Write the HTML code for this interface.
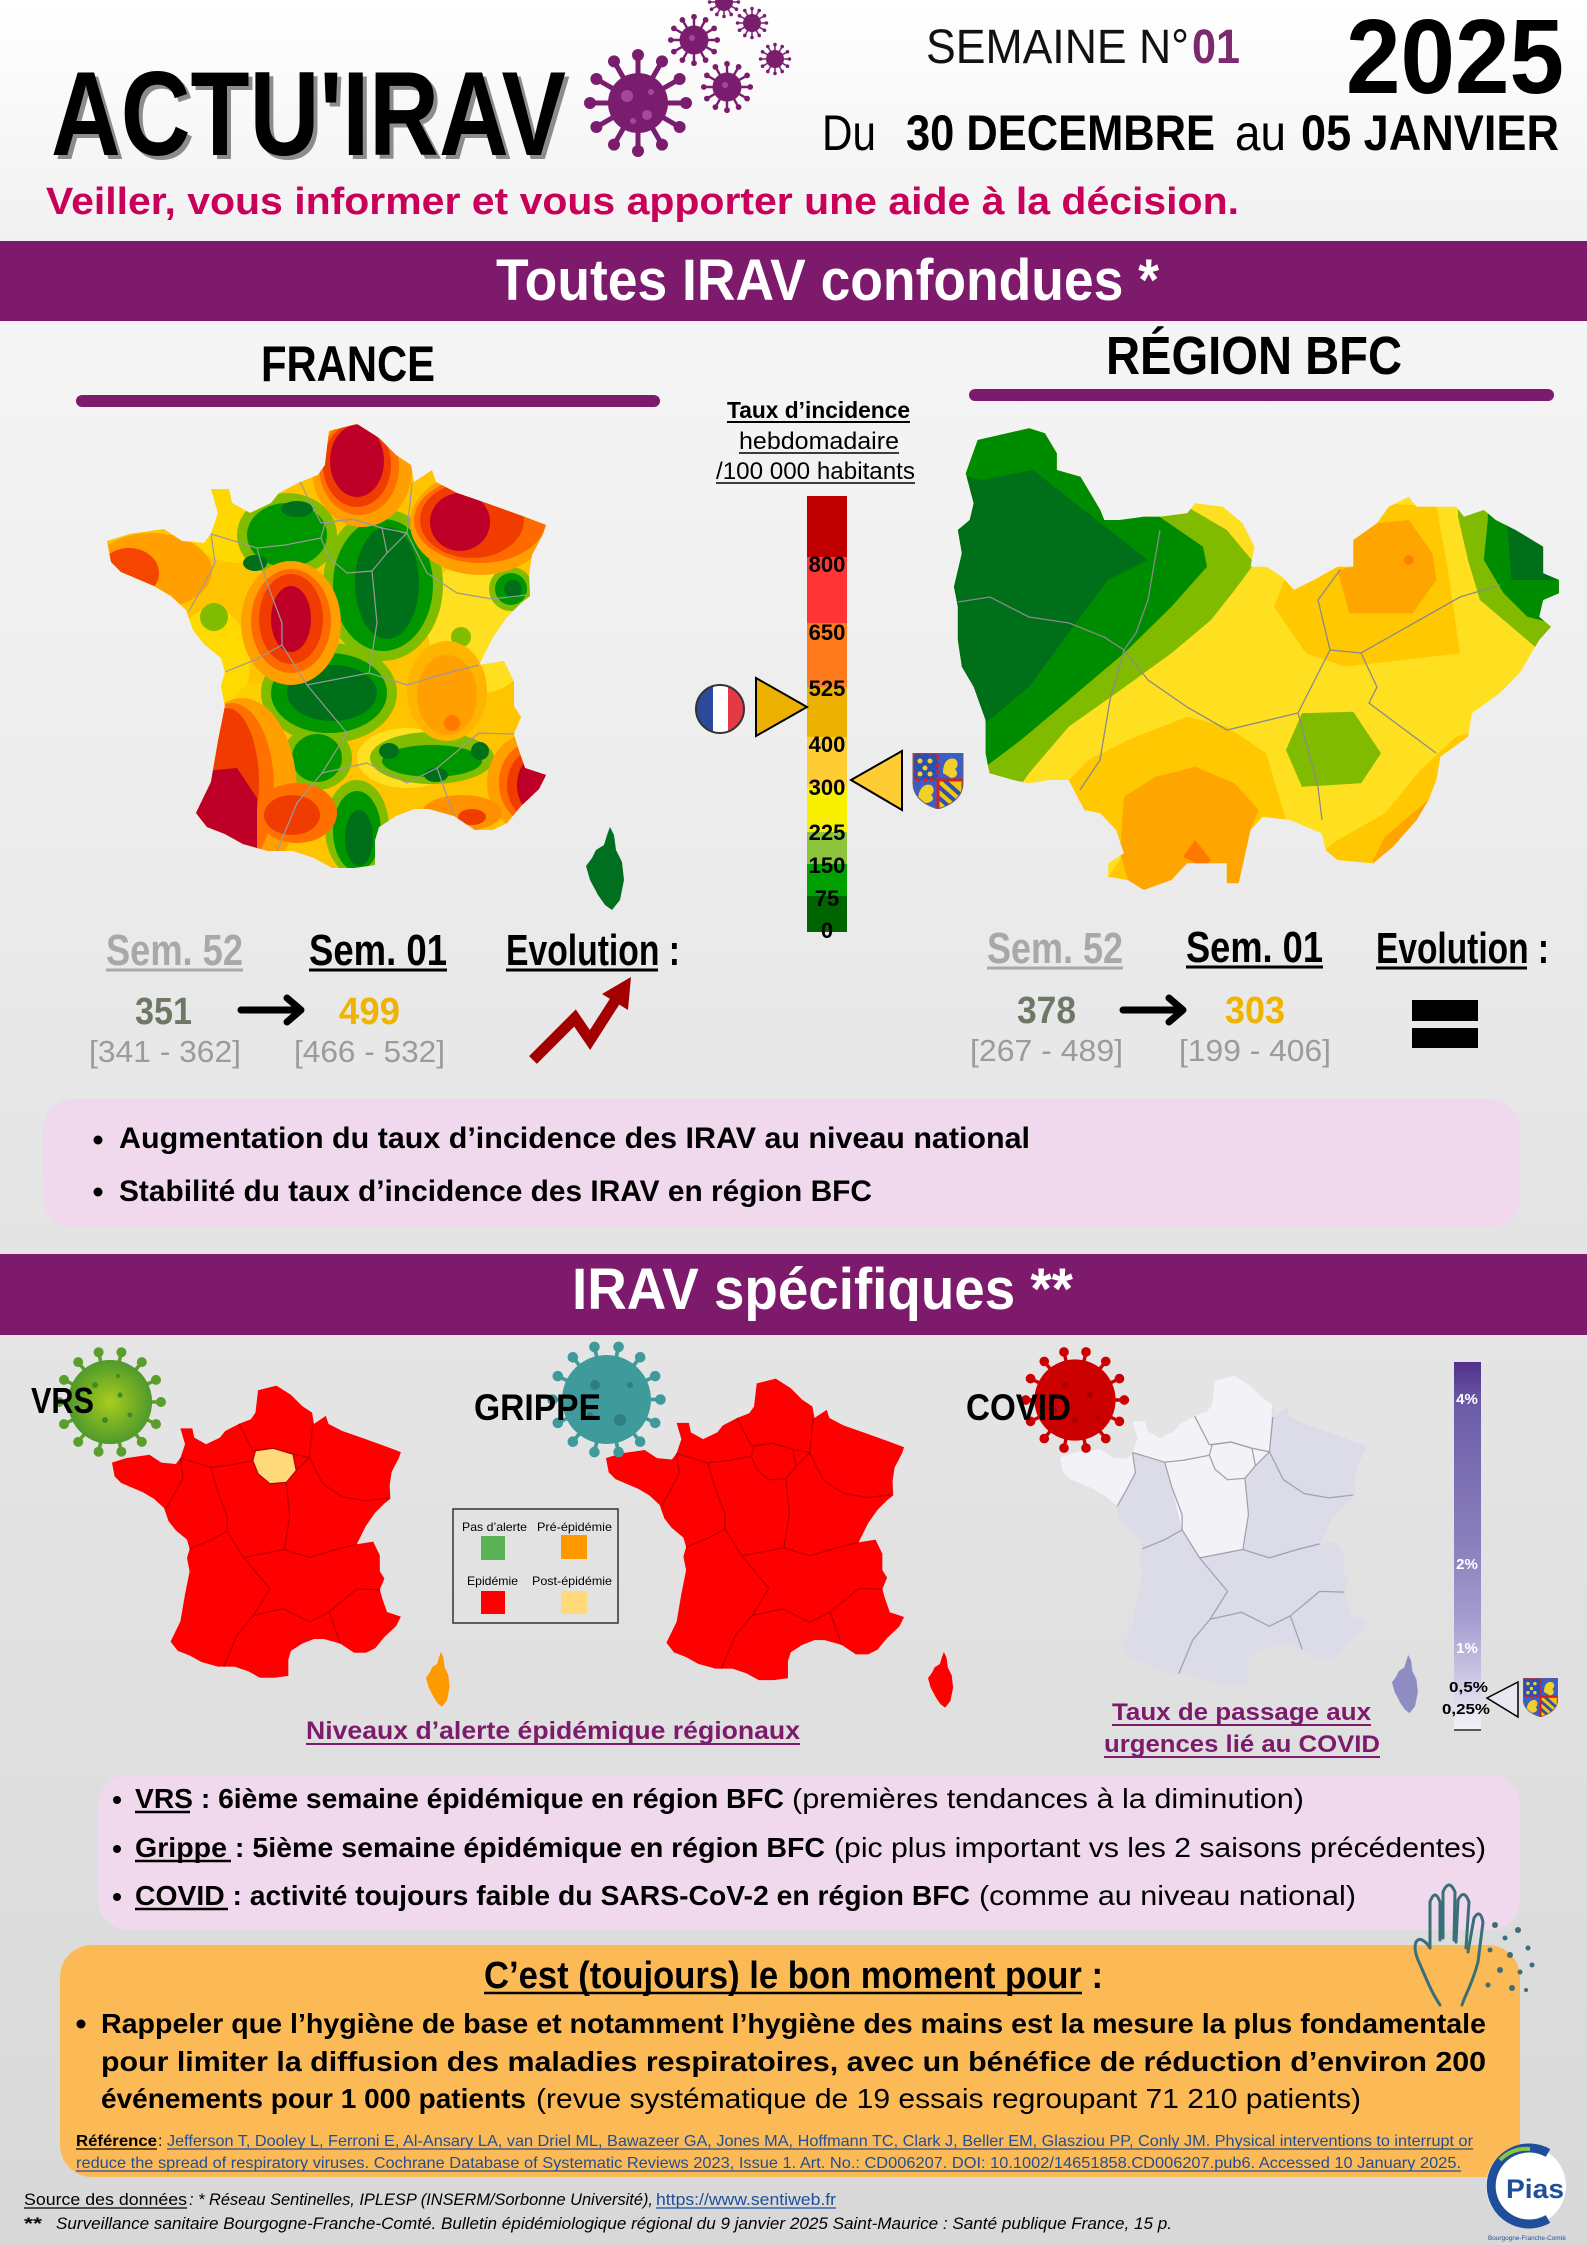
<!DOCTYPE html>
<html><head><meta charset="utf-8">
<style>
html,body{margin:0;padding:0;background:#e8e8e8;}
svg{display:block}
text{font-family:"Liberation Sans",sans-serif;}
</style></head><body>
<svg width="1587" height="2245" viewBox="0 0 1587 2245" xmlns="http://www.w3.org/2000/svg">
<defs>
 <linearGradient id="g1" x1="0" y1="0" x2="0" y2="1"><stop offset="0" stop-color="#ffffff"/><stop offset="1" stop-color="#f1f1f1"/></linearGradient>
 <linearGradient id="g2" x1="0" y1="0" x2="0" y2="1"><stop offset="0" stop-color="#f5f5f5"/><stop offset="1" stop-color="#e4e4e4"/></linearGradient>
 <linearGradient id="g3" x1="0" y1="0" x2="0" y2="1"><stop offset="0" stop-color="#e5e5e5"/><stop offset="1" stop-color="#d8d8d8"/></linearGradient>
 <linearGradient id="cb" x1="0" y1="0" x2="0" y2="1">
  <stop offset="0" stop-color="#52308c"/><stop offset="0.12" stop-color="#6c5ca8"/><stop offset="0.5" stop-color="#8a80bd"/>
  <stop offset="0.7" stop-color="#a49dcf"/><stop offset="0.85" stop-color="#c9c6e3"/><stop offset="1" stop-color="#f3f3f8"/>
 </linearGradient>
 <radialGradient id="vrsg" cx="0.5" cy="0.5" r="0.5"><stop offset="0" stop-color="#a9cc1e"/><stop offset="1" stop-color="#4f9a2b"/></radialGradient>
 <path id="frp" d="M222,8 L250,1 L272,15 L289,32 L304,42 L307,59 L325,47 L329,59 L350,70 L379,80 L418,94 L439,102 L436,111 L425,132 L422,152 L423,173 L414,180 L400,194 L386,214 L372,242 L397,238 L407,259 L407,283 L414,294 L407,311 L411,325 L418,345 L439,352 L432,366 L414,383 L400,400 L386,407 L368,407 L347,393 L322,386 L307,386 L289,393 L272,404 L268,417 L268,442 L247,445 L225,445 L207,435 L186,428 L161,428 L136,421 L118,411 L100,404 L89,390 L104,359 L111,318 L118,283 L114,263 L118,249 L114,235 L97,221 L86,207 L79,187 L64,173 L47,163 L14,149 L4,139 L0,118 L22,111 L57,106 L75,118 L97,120 L104,111 L111,90 L104,66 L122,66 L125,80 L143,90 L164,80 L172,70 L193,59 L211,52 L218,42 Z"/>
 <path id="cor" d="M24,0 L28,8 L30,23 L36,35 L38,53 L34,73 L26,83 L19,78 L12,68 L4,53 L0,39 L6,31 L10,23 L18,18 L21,8 Z"/>
 <clipPath id="frc"><use href="#frp"/></clipPath>
 <g id="rb">
  <path d="M193,59 L214,100"/>
  <path d="M214,100 L245,96 L275,105 L300,110 L305,60"/>
  <path d="M104,111 L150,125 L178,122 L214,115"/>
  <path d="M104,111 L108,140 L95,165 L82,188"/>
  <path d="M150,125 L160,160 L175,200 L175,222"/>
  <path d="M118,249 L150,236 L175,222"/>
  <path d="M218,100 L245,96 L275,105 L280,130 L265,148 L240,150 L222,135 L214,115 Z"/>
  <path d="M265,148 L270,200 L262,250"/>
  <path d="M175,222 L200,262 L262,250"/>
  <path d="M280,130 L300,110 L320,150 L350,170 L385,176 L420,172"/>
  <path d="M262,250 L300,262 L340,250 L372,242"/>
  <path d="M200,262 L240,310 L215,350 L190,380 L170,428"/>
  <path d="M215,350 L260,340 L300,360 L330,345"/>
  <path d="M330,345 L372,310 L407,311"/>
  <path d="M330,345 L347,393"/>
 </g>
 <symbol id="vir" viewBox="-60 -60 120 120">
  <path d="M0,0L48,0M0,0L41.6,24M0,0L24,41.6M0,0L0,48M0,0L-24,41.6M0,0L-41.6,24M0,0L-48,0M0,0L-41.6,-24M0,0L-24,-41.6M0,0L0,-48M0,0L24,-41.6M0,0L41.6,-24" stroke="currentColor" stroke-width="5"/>
  <circle r="30" fill="currentColor"/>
  <g fill="currentColor"><circle cx="48" cy="0" r="6"/><circle cx="41.6" cy="24" r="6"/><circle cx="24" cy="41.6" r="6"/><circle cx="0" cy="48" r="6"/><circle cx="-24" cy="41.6" r="6"/><circle cx="-41.6" cy="24" r="6"/><circle cx="-48" cy="0" r="6"/><circle cx="-41.6" cy="-24" r="6"/><circle cx="-24" cy="-41.6" r="6"/><circle cx="0" cy="-48" r="6"/><circle cx="24" cy="-41.6" r="6"/><circle cx="41.6" cy="-24" r="6"/></g>
 </symbol>
 <symbol id="vir2" viewBox="-60 -60 120 120">
  <path d="M0,0L51,0M0,0L46,22.1M0,0L31.8,39.9M0,0L11.4,49.7M0,0L-11.4,49.7M0,0L-31.8,39.9M0,0L-46,22.1M0,0L-51,0M0,0L-46,-22.1M0,0L-31.8,-39.9M0,0L-11.4,-49.7M0,0L11.4,-49.7M0,0L31.8,-39.9M0,0L46,-22.1" stroke="currentColor" stroke-width="3.5"/>
  <circle r="42" fill="currentColor"/>
  <g fill="currentColor"><circle cx="51" cy="0" r="5"/><circle cx="46" cy="22.1" r="5"/><circle cx="31.8" cy="39.9" r="5"/><circle cx="11.4" cy="49.7" r="5"/><circle cx="-11.4" cy="49.7" r="5"/><circle cx="-31.8" cy="39.9" r="5"/><circle cx="-46" cy="22.1" r="5"/><circle cx="-51" cy="0" r="5"/><circle cx="-46" cy="-22.1" r="5"/><circle cx="-31.8" cy="-39.9" r="5"/><circle cx="-11.4" cy="-49.7" r="5"/><circle cx="11.4" cy="-49.7" r="5"/><circle cx="31.8" cy="-39.9" r="5"/><circle cx="46" cy="-22.1" r="5"/></g>
 </symbol>
 <clipPath id="shc"><path d="M0,0H50V30C50,45 38,52 25,56C12,52 0,45 0,30Z"/></clipPath>
 <symbol id="coa" viewBox="0 0 50 56">
  <g clip-path="url(#shc)">
   <rect width="50" height="56" fill="#3a5ec4"/>
   <rect x="0" y="0" width="25" height="27" fill="#2c4fb0"/>
   <rect x="0" y="0" width="25" height="27" fill="none" stroke="#e02020" stroke-width="3" stroke-dasharray="4 3"/>
   <g fill="#f3cf2a"><circle cx="7" cy="8" r="2.5"/><circle cx="17" cy="8" r="2.5"/><circle cx="12" cy="15" r="2.5"/><circle cx="7" cy="21" r="2.5"/><circle cx="17" cy="21" r="2.5"/></g>
   <path d="M30,20 C30,8 36,4 42,6 C46,9 45,14 42,16 C46,20 44,25 38,25 Z" fill="#f3cf2a"/>
   <path d="M5,48 C5,35 12,30 18,32 C22,35 21,40 18,42 C22,45 20,50 12,50 Z" fill="#f3cf2a"/>
   <rect x="25" y="27" width="25" height="29" fill="#f2c511"/>
   <path d="M25,33 L50,55 M25,44 L40,57 M31,27 L50,44" stroke="#2c4fb0" stroke-width="4"/>
   <rect x="25" y="27" width="25" height="29" fill="none" stroke="#d42020" stroke-width="3"/>
  </g>
  <path d="M0,0H50V30C50,45 38,52 25,56C12,52 0,45 0,30Z" fill="none" stroke="#666" stroke-width="1"/>
 </symbol>
 <clipPath id="flc"><circle cx="720" cy="709" r="24"/></clipPath>
</defs>

<!-- backgrounds -->
<rect x="0" y="0" width="1587" height="241" fill="url(#g1)"/>
<rect x="0" y="321" width="1587" height="933" fill="url(#g2)"/>
<rect x="0" y="1335" width="1587" height="910" fill="url(#g3)"/>
<rect x="0" y="241" width="1587" height="80" fill="#7d1a6b"/>
<rect x="0" y="1254" width="1587" height="81" fill="#7d1a6b"/>

<!-- HEADER -->
<text x="55" y="159" font-size="120" font-weight="bold" fill="#8c8c8c" textLength="515" lengthAdjust="spacingAndGlyphs">ACTU'IRAV</text>
<text x="51" y="155" font-size="120" font-weight="bold" fill="#000" textLength="515" lengthAdjust="spacingAndGlyphs">ACTU'IRAV</text>
<g color="#7b1d6e">
 <use href="#vir" x="578" y="43" width="120" height="120"/>
 <use href="#vir" x="665" y="11" width="58" height="58"/>
 <use href="#vir" x="698" y="58" width="58" height="58"/>
 <use href="#vir" x="734" y="5" width="36" height="36"/>
 <use href="#vir" x="757" y="41" width="36" height="36"/>
 <use href="#vir" x="706" y="-16" width="36" height="36"/>
</g>
<g fill="#a8479a"><circle cx="627" cy="96" r="6"/><circle cx="647" cy="115" r="5"/><circle cx="633" cy="121" r="3"/><circle cx="651" cy="92" r="3"/><circle cx="692" cy="38" r="3"/><circle cx="725" cy="85" r="3"/></g>

<text x="926" y="63" font-size="48" fill="#111" textLength="263" lengthAdjust="spacingAndGlyphs">SEMAINE N°</text>
<text x="1192" y="63" font-size="48" font-weight="bold" fill="#7b2a6e" textLength="48" lengthAdjust="spacingAndGlyphs">01</text>
<text x="1346" y="93" font-size="106" font-weight="bold" fill="#000" textLength="218" lengthAdjust="spacingAndGlyphs">2025</text>
<text x="822" y="150" font-size="50" fill="#000" textLength="54" lengthAdjust="spacingAndGlyphs">Du</text>
<text x="906" y="150" font-size="50" font-weight="bold" fill="#000" textLength="309" lengthAdjust="spacingAndGlyphs">30 DECEMBRE</text>
<text x="1235" y="150" font-size="50" fill="#000" textLength="51" lengthAdjust="spacingAndGlyphs">au</text>
<text x="1301" y="150" font-size="50" font-weight="bold" fill="#000" textLength="258" lengthAdjust="spacingAndGlyphs">05 JANVIER</text>
<text x="46" y="214" font-size="38" font-weight="bold" fill="#c8005a" textLength="1193" lengthAdjust="spacingAndGlyphs">Veiller, vous informer et vous apporter une aide à la décision.</text>

<text x="496" y="300" font-size="58" font-weight="bold" fill="#fff" textLength="663" lengthAdjust="spacingAndGlyphs">Toutes IRAV confondues *</text>

<!-- SECTION 1 titles -->
<text x="261" y="381" font-size="50" font-weight="bold" fill="#000" textLength="174" lengthAdjust="spacingAndGlyphs">FRANCE</text>
<rect x="76" y="395" width="584" height="12" rx="6" fill="#7d1a6b"/>
<text x="1106" y="374" font-size="54" font-weight="bold" fill="#000" textLength="296" lengthAdjust="spacingAndGlyphs">RÉGION BFC</text>
<rect x="969" y="389" width="585" height="12" rx="6" fill="#7d1a6b"/>

<!-- FRANCE HEAT MAP -->
<g transform="translate(107,423)">
 <g clip-path="url(#frc)">
  <rect x="-5" y="-5" width="450" height="460" fill="#ffc400"/>
  <ellipse cx="135" cy="100" rx="60" ry="40" fill="#ffd800"/>
  <ellipse cx="105" cy="240" rx="38" ry="55" fill="#ffda00"/>
  <ellipse cx="375" cy="200" rx="55" ry="70" fill="#ffe020"/>
  <ellipse cx="300" cy="335" rx="50" ry="30" fill="#ffe020"/>
  <ellipse cx="150" cy="300" rx="30" ry="40" fill="#ffd000"/>
  <ellipse cx="45" cy="148" rx="60" ry="38" fill="#ffa000"/>
  <ellipse cx="22" cy="150" rx="30" ry="25" fill="#f54500"/>
  <g fill="#80bc00">
   <ellipse cx="180" cy="112" rx="50" ry="42"/><ellipse cx="276" cy="162" rx="60" ry="76"/><ellipse cx="222" cy="270" rx="68" ry="50"/>
   <ellipse cx="210" cy="335" rx="35" ry="32"/><ellipse cx="250" cy="405" rx="32" ry="48"/><ellipse cx="325" cy="335" rx="62" ry="26"/>
   <ellipse cx="404" cy="166" rx="22" ry="22"/><ellipse cx="107" cy="194" rx="14" ry="14"/><ellipse cx="354" cy="214" rx="10" ry="10"/>
  </g>
  <g fill="#009600">
   <ellipse cx="180" cy="112" rx="40" ry="32"/><ellipse cx="276" cy="162" rx="50" ry="66"/><ellipse cx="222" cy="270" rx="58" ry="40"/>
   <ellipse cx="210" cy="335" rx="25" ry="24"/><ellipse cx="250" cy="408" rx="24" ry="40"/><ellipse cx="325" cy="338" rx="50" ry="16"/>
   <ellipse cx="404" cy="166" rx="16" ry="16"/>
  </g>
  <g fill="#006f1a">
   <ellipse cx="190" cy="86" rx="16" ry="8"/><ellipse cx="148" cy="140" rx="12" ry="8"/><ellipse cx="280" cy="160" rx="32" ry="56"/>
   <ellipse cx="225" cy="270" rx="45" ry="28"/><ellipse cx="252" cy="415" rx="14" ry="28"/><ellipse cx="282" cy="328" rx="10" ry="8"/>
   <ellipse cx="373" cy="328" rx="9" ry="9"/><ellipse cx="329" cy="352" rx="12" ry="7"/><ellipse cx="406" cy="166" rx="9" ry="9"/>
  </g>
  <!-- Nord -->
  <ellipse cx="255" cy="46" rx="50" ry="58" fill="#ffa000"/>
  <ellipse cx="252" cy="44" rx="40" ry="48" fill="#ff7000"/>
  <ellipse cx="250" cy="42" rx="34" ry="42" fill="#f03c00"/>
  <ellipse cx="250" cy="38" rx="27" ry="36" fill="#be0028"/>
  <!-- Champagne -->
  <ellipse cx="373" cy="100" rx="70" ry="52" fill="#ffa000"/>
  <ellipse cx="373" cy="97" rx="66" ry="43" fill="#ff6a00"/>
  <ellipse cx="365" cy="97" rx="52" ry="38" fill="#f03c00"/>
  <ellipse cx="353" cy="99" rx="30" ry="29" fill="#be0028"/>
  <!-- Centre -->
  <ellipse cx="184" cy="200" rx="50" ry="62" fill="#ffa000"/>
  <ellipse cx="184" cy="198" rx="40" ry="52" fill="#ff6a00"/>
  <ellipse cx="184" cy="196" rx="32" ry="45" fill="#f03c00"/>
  <ellipse cx="184" cy="196" rx="20" ry="33" fill="#be0028"/>
  <!-- SW -->
  <ellipse cx="135" cy="370" rx="55" ry="95" fill="#ffa000"/>
  <ellipse cx="125" cy="365" rx="42" ry="85" fill="#ff7000"/>
  <ellipse cx="120" cy="360" rx="32" ry="75" fill="#f03c00"/>
  <polygon points="89,349 130,345 150,375 150,428 136,428 100,410 89,390" fill="#be0028"/>
  <ellipse cx="190" cy="390" rx="40" ry="30" fill="#ff7000"/>
  <ellipse cx="185" cy="392" rx="28" ry="20" fill="#f03c00"/>
  <!-- Provence -->
  <ellipse cx="425" cy="360" rx="45" ry="50" fill="#ffa000"/>
  <ellipse cx="428" cy="360" rx="36" ry="42" fill="#ff6a00"/>
  <ellipse cx="430" cy="362" rx="30" ry="36" fill="#f03c00"/>
  <ellipse cx="432" cy="362" rx="22" ry="30" fill="#be0028"/>
  <ellipse cx="355" cy="390" rx="40" ry="18" fill="#ff9000"/>
  <ellipse cx="365" cy="394" rx="14" ry="8" fill="#f03c00"/>
  <!-- Rhone-Alpes -->
  <ellipse cx="340" cy="268" rx="40" ry="50" fill="#ffb400"/>
  <ellipse cx="340" cy="272" rx="30" ry="40" fill="#ffa000"/>
  <ellipse cx="345" cy="300" rx="8" ry="8" fill="#ff7800"/>
 </g>
 <use href="#rb" fill="none" stroke="#9a9a9a" stroke-width="1.2"/>
</g>
<use href="#cor" x="586" y="827" fill="#007020"/>

<!-- Legend / color bar -->
<text x="727" y="418" font-size="23" font-weight="bold" fill="#000" textLength="183" lengthAdjust="spacingAndGlyphs">Taux d’incidence</text>
<line x1="727" y1="422" x2="910" y2="422" stroke="#000" stroke-width="2"/>
<text x="739" y="449" font-size="24" fill="#000" textLength="160" lengthAdjust="spacingAndGlyphs">hebdomadaire</text>
<line x1="739" y1="453" x2="899" y2="453" stroke="#000" stroke-width="1.5"/>
<text x="716" y="479" font-size="24" fill="#000" textLength="199" lengthAdjust="spacingAndGlyphs">/100 000 habitants</text>
<line x1="716" y1="483" x2="915" y2="483" stroke="#000" stroke-width="1.5"/>

<rect x="807" y="496" width="40" height="61" fill="#c00000"/>
<rect x="807" y="557" width="40" height="66" fill="#ff3535"/>
<rect x="807" y="623" width="40" height="64" fill="#ff7a1c"/>
<rect x="807" y="687" width="40" height="50" fill="#ebb000"/>
<rect x="807" y="737" width="40" height="50" fill="#ffcc33"/>
<rect x="807" y="787" width="40" height="45" fill="#f7f000"/>
<rect x="807" y="832" width="40" height="32" fill="#8cc43c"/>
<rect x="807" y="864" width="40" height="32" fill="#00a000"/>
<rect x="807" y="896" width="40" height="36" fill="#006400"/>
<g font-size="22" font-weight="bold" fill="#000" text-anchor="middle">
 <text x="827" y="572">800</text><text x="827" y="640">650</text><text x="827" y="696">525</text><text x="827" y="752">400</text>
 <text x="827" y="795">300</text><text x="827" y="840">225</text><text x="827" y="873">150</text><text x="827" y="906">75</text><text x="827" y="938">0</text>
</g>
<g clip-path="url(#flc)">
 <rect x="696" y="685" width="17" height="48" fill="#2b4a9c"/>
 <rect x="713" y="685" width="15" height="48" fill="#ffffff"/>
 <rect x="728" y="685" width="17" height="48" fill="#e63946"/>
</g>
<circle cx="720" cy="709" r="24" fill="none" stroke="#333" stroke-width="2"/>
<polygon points="756,678 807,707 756,736" fill="#ebb000" stroke="#000" stroke-width="2"/>
<polygon points="851,780 902,751 902,810" fill="#ffcc33" stroke="#000" stroke-width="2"/>
<use href="#coa" x="912" y="753" width="52" height="56"/>

<!-- BFC MAP -->
<clipPath id="bfc"><polygon points="977.7,440 1029.1,428.3 1044.9,433.3 1056.8,453.3 1056.8,470 1080.5,476.7 1088.4,490 1100.3,510 1104.2,520 1120,520 1143.8,516.7 1159.6,516.7 1187.2,513.3 1195.2,503.3 1222.8,506.7 1242.6,523.3 1254.5,546.7 1250.5,566.7 1266.3,566.7 1282.1,576.7 1294,590 1313.8,580 1337.5,566.7 1353.3,566.7 1353.3,540 1377,523.3 1388.9,506.7 1408.7,496.7 1416.6,506.7 1436.4,506.7 1456.1,506.7 1464,516.7 1483.8,510 1495.7,520 1515.4,530 1543.1,546.7 1543.1,573.3 1558.9,580 1558.9,593.3 1543.1,600 1539.2,616.7 1551,626.7 1539.2,640 1519.4,673.3 1499.6,693.3 1471.9,713.3 1468,736.7 1440.3,756.7 1436.4,780 1428.5,800 1416.6,820 1392.9,846.7 1373.1,863.3 1337.5,860 1325.6,850 1321.7,833.3 1305.9,826.7 1290.1,820 1262.4,816.7 1250.5,830 1238.7,883.3 1226.8,883.3 1226.8,863.3 1187.2,863.3 1171.4,880 1143.8,890 1127.9,880 1108.2,876.7 1108.2,863.3 1124,853.3 1116.1,830 1100.3,813.3 1084.4,810 1068.6,780 1048.9,780 1029.1,783.3 1013.3,780 989.5,773.3 985.6,753.3 985.6,720 973.7,686.7 961.9,666.7 957.9,640 957.9,606.7 954,586.7 961.9,553.3 957.9,530 969.8,520 973.7,503.3 965.8,473.3"/></clipPath>
<g clip-path="url(#bfc)">
 <rect x="940" y="420" width="640" height="480" fill="#ffe020"/>
 <polygon points="1385,503.3 1436.4,506.7 1448,570 1460,653.3 1345.4,666.7 1305.9,653.3 1274,606.7 1286,576.7 1313.8,580 1337.5,566.7 1353,540" fill="#ffc800"/>
 <polygon points="1377,523.3 1408.7,520 1432.4,553.3 1436.4,580 1412.6,613.3 1349.4,613.3 1337.5,570 1353.3,566.7 1353.3,540" fill="#ffa500"/>
 <circle cx="1408.7" cy="560" r="5" fill="#ff7f00"/>
 <polygon points="1068.6,780 1088.4,760 1128,740 1187.2,716.7 1226.8,726.7 1266.3,753.3 1286,820 1250.5,830 1238.7,883.3 1187.2,863.3 1171.4,880 1143.8,890 1108.2,876.7 1124,853.3 1116,830 1100.3,813.3 1084.4,810" fill="#ffc800"/>
 <polygon points="1124,796.7 1155.6,776.7 1195.2,766.7 1234.7,783.3 1258.4,810 1250.5,830 1238.7,883.3 1226.8,883.3 1226.8,863.3 1187.2,863.3 1171.4,880 1143.8,890 1127.9,880 1120,853.3" fill="#ffa500"/>
 <polygon points="1183,856.7 1195,840 1211,860 1203,866.7" fill="#ff7800"/>
 <polygon points="1480,730 1456,736.7 1420.5,770 1385,813.3 1337.5,840 1325,850 1337.5,870 1380,870 1440,800" fill="#ffc800"/>
 <polygon points="1373,870 1373,860 1385,836.7 1416.6,810 1440,790 1440,830 1400,870" fill="#ffa500"/>
 <polygon points="1301.9,713.3 1353.3,711.7 1381,753.3 1361.2,783.3 1301.9,786.7 1286,750" fill="#80bb00"/>
 <polygon points="940,420 1187,420 1187,506.7 1226.8,530 1254.5,563.3 1234.7,590 1211,620 1171.4,653.3 1116,693.3 1068.6,726.7 1029,773.3 1010,800 940,800" fill="#80bb00"/>
 <polygon points="940,420 1159.6,420 1159.6,516.7 1203,546.7 1207,566.7 1171.4,606.7 1124,653.3 1068.6,700 1021,740 985.6,766.7 960,800 940,800" fill="#008c00"/>
 <polygon points="940,470 981.6,480 1033,470 1147.7,560 1108,580 1068.6,633 1029,687 985.6,723 940,740" fill="#006f1a"/>
 <polygon points="1458,500 1580,500 1580,665 1535,646.7 1511.5,626.7 1479.9,600 1468,560 1458,516.7" fill="#80bb00"/>
 <polygon points="1487.8,500 1580,500 1580,630 1527.3,616.7 1503.6,593.3 1483.8,560 1487.8,520" fill="#008c00"/>
 <polygon points="1505,500 1580,500 1580,580 1511.5,580 1507.5,530" fill="#006f1a"/>
 <g fill="none" stroke="#8a8a8a" stroke-width="1.3">
  <polyline points="958,602 990,597 1029,617 1069,623 1104,637 1124,650 1136,633 1148,600 1160,530"/>
  <polyline points="1124,650 1148,680 1187,707 1227,730 1298,713 1330,650 1361,653 1460,597 1500,585"/>
  <polyline points="1298,713 1318,787 1322,820"/>
  <polyline points="1361,653 1377,687 1369,703 1436,753"/>
  <polyline points="1330,650 1318,600 1340,570"/>
  <polyline points="1124,650 1110,700 1100,760 1080,790"/>
 </g>
</g>

<!-- Stats -->
<g font-weight="bold" font-size="44">
 <text x="106" y="965" fill="#a8a8a8" textLength="137" lengthAdjust="spacingAndGlyphs">Sem. 52</text>
 <text x="309" y="965" fill="#000" textLength="138" lengthAdjust="spacingAndGlyphs">Sem. 01</text>
 <text x="506" y="965" fill="#000" textLength="174" lengthAdjust="spacingAndGlyphs">Evolution :</text>
 <text x="987" y="963" fill="#a8a8a8" textLength="136" lengthAdjust="spacingAndGlyphs">Sem. 52</text>
 <text x="1186" y="962" fill="#000" textLength="137" lengthAdjust="spacingAndGlyphs">Sem. 01</text>
 <text x="1376" y="963" fill="#000" textLength="173" lengthAdjust="spacingAndGlyphs">Evolution :</text>
</g>
<line x1="106" y1="970" x2="243" y2="970" stroke="#a8a8a8" stroke-width="3"/>
<line x1="309" y1="970" x2="447" y2="970" stroke="#000" stroke-width="3"/>
<line x1="506" y1="970" x2="658" y2="970" stroke="#000" stroke-width="3"/>
<line x1="987" y1="968" x2="1123" y2="968" stroke="#a8a8a8" stroke-width="3"/>
<line x1="1186" y1="967" x2="1323" y2="967" stroke="#000" stroke-width="3"/>
<line x1="1376" y1="968" x2="1527" y2="968" stroke="#000" stroke-width="3"/>

<g font-weight="bold" font-size="38">
 <text x="135" y="1024" fill="#6d7867" textLength="57" lengthAdjust="spacingAndGlyphs">351</text>
 <text x="339" y="1024" fill="#f0b400" textLength="61" lengthAdjust="spacingAndGlyphs">499</text>
 <text x="1017" y="1023" fill="#6d7867" textLength="59" lengthAdjust="spacingAndGlyphs">378</text>
 <text x="1225" y="1023" fill="#f0b400" textLength="60" lengthAdjust="spacingAndGlyphs">303</text>
</g>
<g font-size="31" fill="#9b9b9b">
 <text x="89" y="1062" textLength="152" lengthAdjust="spacingAndGlyphs">[341 - 362]</text>
 <text x="294" y="1062" textLength="151" lengthAdjust="spacingAndGlyphs">[466 - 532]</text>
 <text x="970" y="1061" textLength="153" lengthAdjust="spacingAndGlyphs">[267 - 489]</text>
 <text x="1179" y="1061" textLength="152" lengthAdjust="spacingAndGlyphs">[199 - 406]</text>
</g>
<g stroke="#000" stroke-width="7" stroke-linecap="round" stroke-linejoin="round" fill="none">
 <path d="M241,1010 H300 M287,998 L301,1010 L287,1022"/>
 <path d="M1123,1010 H1182 M1169,998 L1183,1010 L1169,1022"/>
</g>
<path d="M533,1060 L575,1018 L590,1040 L615,1001" fill="none" stroke="#a50000" stroke-width="11" stroke-linejoin="miter"/>
<polygon points="631,977 628,1010 602,994" fill="#a50000"/>
<rect x="1412" y="1000" width="66" height="21" fill="#000"/>
<rect x="1412" y="1028" width="66" height="20" fill="#000"/>

<!-- Pink box 1 -->
<rect x="43" y="1099" width="1477" height="129" rx="30" fill="#f0d9ec"/>
<circle cx="98" cy="1140" r="4.5" fill="#000"/>
<circle cx="98" cy="1192" r="4.5" fill="#000"/>
<text x="119" y="1148" font-size="30" font-weight="bold" fill="#000" textLength="911" lengthAdjust="spacingAndGlyphs">Augmentation du taux d’incidence des IRAV au niveau national</text>
<text x="119" y="1201" font-size="30" font-weight="bold" fill="#000" textLength="753" lengthAdjust="spacingAndGlyphs">Stabilité du taux d’incidence des IRAV en région BFC</text>

<text x="572" y="1309" font-size="58" font-weight="bold" fill="#fff" textLength="501" lengthAdjust="spacingAndGlyphs">IRAV spécifiques **</text>

<!-- SECTION 3 -->
<!-- VRS -->
<g transform="translate(112,1385) scale(0.658)">
 <use href="#frp" fill="#ff0000"/>
 <path d="M218,100 L245,96 L275,105 L280,130 L265,148 L240,150 L222,135 L214,115 Z" fill="#ffd97a"/>
 <use href="#rb" fill="none" stroke="#b80000" stroke-width="1.8"/>
</g>
<use href="#cor" transform="translate(426,1652) scale(0.62,0.66)" fill="#ff9900"/>
<use href="#vir2" x="50" y="1342" width="120" height="120" color="#5a9e2c"/>
<circle cx="110" cy="1402" r="42" fill="url(#vrsg)"/>
<g fill="#3f8a25"><circle cx="95" cy="1385" r="3"/><circle cx="120" cy="1395" r="2.5"/><circle cx="105" cy="1420" r="3"/><circle cx="130" cy="1415" r="2.5"/><circle cx="88" cy="1408" r="2"/><circle cx="118" cy="1376" r="2"/></g>
<text x="31" y="1413" font-size="36" font-weight="bold" fill="#000" textLength="63" lengthAdjust="spacingAndGlyphs">VRS</text>

<!-- Legend box -->
<rect x="453" y="1509" width="165" height="114" fill="#e2e2e2" stroke="#333" stroke-width="1.5"/>
<g font-size="12" fill="#000">
 <text x="462" y="1531" textLength="65" lengthAdjust="spacingAndGlyphs">Pas d’alerte</text>
 <text x="537" y="1531" textLength="75" lengthAdjust="spacingAndGlyphs">Pré-épidémie</text>
 <text x="467" y="1585" textLength="51" lengthAdjust="spacingAndGlyphs">Epidémie</text>
 <text x="532" y="1585" textLength="80" lengthAdjust="spacingAndGlyphs">Post-épidémie</text>
</g>
<rect x="481" y="1536" width="24" height="24" fill="#5cb256"/>
<rect x="561" y="1535" width="26" height="24" fill="#ff9900"/>
<rect x="481" y="1591" width="24" height="23" fill="#ff0000"/>
<rect x="561" y="1591" width="26" height="23" fill="#ffd97a"/>

<!-- GRIPPE -->
<g transform="translate(606,1378) scale(0.679)">
 <use href="#frp" fill="#ff0000"/>
 <use href="#rb" fill="none" stroke="#b80000" stroke-width="1.8"/>
</g>
<use href="#cor" transform="translate(928,1652) scale(0.66,0.67)" fill="#ff0000"/>
<use href="#vir2" x="543" y="1336" width="127" height="127" color="#3f9a9b"/>
<g fill="#2f7f80"><circle cx="595" cy="1385" r="5"/><circle cx="620" cy="1420" r="6"/><circle cx="630" cy="1385" r="3"/><circle cx="590" cy="1415" r="3"/></g>
<text x="474" y="1420" font-size="37" font-weight="bold" fill="#000" textLength="127" lengthAdjust="spacingAndGlyphs">GRIPPE</text>

<text x="306" y="1739" font-size="25" font-weight="bold" fill="#7d1a6b" textLength="494" lengthAdjust="spacingAndGlyphs">Niveaux d’alerte épidémique régionaux</text>
<line x1="306" y1="1744" x2="800" y2="1744" stroke="#7d1a6b" stroke-width="2"/>

<!-- COVID -->
<g transform="translate(1060,1375) scale(0.698)">
 <use href="#frp" fill="#dcdce8"/>
 <path d="M64,173 L47,163 L14,149 L4,139 L0,118 L22,111 L57,106 L75,118 L97,120 L104,111 L111,90 L104,66 L122,66 L125,80 L143,90 L164,80 L172,70 L193,59 L211,52 L218,42 L222,8 L250,1 L272,15 L289,32 L304,42 L300,110 L280,130 L265,148 L270,200 L262,250 L200,262 L175,222 L160,160 L150,125 L104,111 L108,140 L95,165 L82,188 Z" fill="#f3f3f7"/>
 <use href="#rb" fill="none" stroke="#a0a0b0" stroke-width="1.8"/>
</g>
<use href="#cor" transform="translate(1392,1655) scale(0.68,0.7)" fill="#8f8cc4"/>
<use href="#vir2" x="1017" y="1342" width="116" height="116" color="#cc0000"/>
<g fill="#a00000"><circle cx="1065" cy="1385" r="3"/><circle cx="1090" cy="1395" r="3"/><circle cx="1075" cy="1420" r="3"/><circle cx="1098" cy="1418" r="2.5"/><circle cx="1055" cy="1410" r="2.5"/></g>
<text x="966" y="1420" font-size="37" font-weight="bold" fill="#000" textLength="105" lengthAdjust="spacingAndGlyphs">COVID</text>

<rect x="1454" y="1362" width="27" height="368" fill="url(#cb)"/>
<line x1="1454" y1="1730" x2="1481" y2="1730" stroke="#555" stroke-width="2"/>
<g font-size="15" font-weight="bold" fill="#fff" text-anchor="middle">
 <text x="1467" y="1404">4%</text><text x="1467" y="1569">2%</text><text x="1467" y="1653">1%</text>
</g>
<text x="1449" y="1692" font-size="15" font-weight="bold" fill="#000" textLength="39" lengthAdjust="spacingAndGlyphs">0,5%</text>
<text x="1442" y="1714" font-size="15" font-weight="bold" fill="#000" textLength="48" lengthAdjust="spacingAndGlyphs">0,25%</text>
<polygon points="1487,1698 1518,1682 1518,1717" fill="#e8e8f2" stroke="#000" stroke-width="1.5"/>
<use href="#coa" x="1523" y="1678" width="35" height="39"/>

<text x="1112" y="1720" font-size="24" font-weight="bold" fill="#7d1a6b" textLength="259" lengthAdjust="spacingAndGlyphs">Taux de passage aux</text>
<line x1="1112" y1="1725" x2="1371" y2="1725" stroke="#7d1a6b" stroke-width="2"/>
<text x="1104" y="1752" font-size="24" font-weight="bold" fill="#7d1a6b" textLength="276" lengthAdjust="spacingAndGlyphs">urgences lié au COVID</text>
<line x1="1104" y1="1757" x2="1380" y2="1757" stroke="#7d1a6b" stroke-width="2"/>

<!-- Pink box 2 -->
<rect x="98" y="1775" width="1422" height="155" rx="30" fill="#f0d9ec"/>
<g fill="#000">
 <circle cx="117" cy="1800" r="4"/><circle cx="117" cy="1849" r="4"/><circle cx="117" cy="1897" r="4"/>
 <text x="135" y="1808" font-size="28" font-weight="bold" textLength="649" lengthAdjust="spacingAndGlyphs">VRS : 6ième semaine épidémique en région BFC</text>
 <text x="792" y="1808" font-size="28" textLength="512" lengthAdjust="spacingAndGlyphs">(premières tendances à la diminution)</text>
 <text x="135" y="1857" font-size="28" font-weight="bold" textLength="690" lengthAdjust="spacingAndGlyphs">Grippe : 5ième semaine épidémique en région BFC</text>
 <text x="834" y="1857" font-size="28" textLength="652" lengthAdjust="spacingAndGlyphs">(pic plus important vs les 2 saisons précédentes)</text>
 <text x="135" y="1905" font-size="28" font-weight="bold" textLength="835" lengthAdjust="spacingAndGlyphs">COVID : activité toujours faible du SARS-CoV-2 en région BFC</text>
 <text x="979" y="1905" font-size="28" textLength="377" lengthAdjust="spacingAndGlyphs">(comme au niveau national)</text>
</g>
<line x1="135" y1="1812" x2="190" y2="1812" stroke="#000" stroke-width="2.5"/>
<line x1="135" y1="1861" x2="231" y2="1861" stroke="#000" stroke-width="2.5"/>
<line x1="135" y1="1909" x2="228" y2="1909" stroke="#000" stroke-width="2.5"/>

<!-- Orange box -->
<rect x="60" y="1945" width="1460" height="232" rx="32" fill="#fcba57"/>
<text x="484" y="1988" font-size="38" font-weight="bold" fill="#000" textLength="619" lengthAdjust="spacingAndGlyphs">C’est (toujours) le bon moment pour :</text>
<line x1="484" y1="1993" x2="1082" y2="1993" stroke="#000" stroke-width="2.5"/>
<circle cx="81" cy="2024" r="4.5" fill="#000"/>
<g fill="#000" font-size="28">
 <text x="101" y="2033" font-weight="bold" textLength="1385" lengthAdjust="spacingAndGlyphs">Rappeler que l’hygiène de base et notamment l’hygiène des mains est la mesure la plus fondamentale</text>
 <text x="101" y="2071" font-weight="bold" textLength="1385" lengthAdjust="spacingAndGlyphs">pour limiter la diffusion des maladies respiratoires, avec un bénéfice de réduction d’environ 200</text>
 <text x="101" y="2108" font-weight="bold" textLength="425" lengthAdjust="spacingAndGlyphs">événements pour 1 000 patients</text>
 <text x="536" y="2108" textLength="825" lengthAdjust="spacingAndGlyphs">(revue systématique de 19 essais regroupant 71 210 patients)</text>
</g>
<g font-size="16">
 <text x="76" y="2146" font-weight="bold" fill="#000" textLength="81" lengthAdjust="spacingAndGlyphs">Référence</text>
 <text x="158" y="2146" fill="#000">:</text>
 <text x="167" y="2146" fill="#1f4e9a" textLength="1306" lengthAdjust="spacingAndGlyphs">Jefferson T, Dooley L, Ferroni E, Al-Ansary LA, van Driel ML, Bawazeer GA, Jones MA, Hoffmann TC, Clark J, Beller EM, Glasziou PP, Conly JM. Physical interventions to interrupt or</text>
 <text x="76" y="2168" fill="#1f4e9a" textLength="1385" lengthAdjust="spacingAndGlyphs">reduce the spread of respiratory viruses. Cochrane Database of Systematic Reviews 2023, Issue 1. Art. No.: CD006207. DOI: 10.1002/14651858.CD006207.pub6. Accessed 10 January 2025.</text>
</g>
<line x1="76" y1="2149" x2="157" y2="2149" stroke="#000" stroke-width="1.2"/>
<line x1="167" y1="2149" x2="1473" y2="2149" stroke="#1f4e9a" stroke-width="1.2"/>
<line x1="76" y1="2171" x2="1461" y2="2171" stroke="#1f4e9a" stroke-width="1.2"/>

<!-- Hand icon -->
<g fill="none" stroke="#3a6e78" stroke-width="3" stroke-linecap="round">
 <path d="M1430,1948 L1430,1902 Q1435,1888 1440,1902 L1440,1940"/>
 <path d="M1443,1938 L1443,1892 Q1449,1878 1455,1892 L1454,1940"/>
 <path d="M1456,1942 L1458,1900 Q1464,1888 1469,1902 L1466,1948"/>
 <path d="M1468,1952 L1474,1918 Q1480,1908 1483,1922 L1478,1962"/>
 <path d="M1430,1948 C1420,1932 1410,1940 1418,1960 C1425,1975 1430,1990 1440,2005"/>
 <path d="M1478,1962 C1472,1985 1465,1995 1462,2005"/>
</g>
<g fill="#3a6e78">
 <circle cx="1495" cy="1925" r="3"/><circle cx="1505" cy="1938" r="2.5"/><circle cx="1518" cy="1930" r="3"/><circle cx="1490" cy="1950" r="2.5"/>
 <circle cx="1510" cy="1955" r="3"/><circle cx="1528" cy="1948" r="2.5"/><circle cx="1500" cy="1970" r="3"/><circle cx="1520" cy="1972" r="2.5"/>
 <circle cx="1532" cy="1965" r="2.5"/><circle cx="1488" cy="1985" r="2.5"/><circle cx="1512" cy="1988" r="3"/><circle cx="1526" cy="1990" r="2"/>
</g>

<!-- Footer -->
<g font-size="17" fill="#000">
 <text x="24" y="2205" textLength="163" lengthAdjust="spacingAndGlyphs">Source des données</text>
 <text x="189" y="2205" font-style="italic" textLength="464" lengthAdjust="spacingAndGlyphs">: * Réseau Sentinelles, IPLESP (INSERM/Sorbonne Université),</text>
 <text x="656" y="2205" fill="#1f4e9a" textLength="180" lengthAdjust="spacingAndGlyphs">https://www.sentiweb.fr</text>
 <text x="24" y="2229" font-weight="bold" textLength="18" lengthAdjust="spacingAndGlyphs">**</text>
 <text x="56" y="2229" font-style="italic" textLength="1116" lengthAdjust="spacingAndGlyphs">Surveillance sanitaire Bourgogne-Franche-Comté. Bulletin épidémiologique régional du 9 janvier 2025 Saint-Maurice : Santé publique France, 15 p.</text>
</g>
<line x1="24" y1="2208" x2="187" y2="2208" stroke="#000" stroke-width="1.2"/>
<line x1="656" y1="2208" x2="836" y2="2208" stroke="#1f4e9a" stroke-width="1.2"/>

<!-- Cpias logo -->
<circle cx="1526" cy="2186" r="40" fill="#ffffff"/>
<path d="M1548,2153 A38,38 0 1,0 1548,2219" fill="none" stroke="#1f4f9a" stroke-width="9"/>
<path d="M1500,2160 A36,36 0 0,1 1530,2149" fill="none" stroke="#8cc63f" stroke-width="4"/>
<text x="1506" y="2198" font-size="27" font-weight="bold" fill="#1f4f9a" textLength="58" lengthAdjust="spacingAndGlyphs">Pias</text>
<text x="1488" y="2240" font-size="6" fill="#1f4f9a" textLength="78" lengthAdjust="spacingAndGlyphs">Bourgogne-Franche-Comté</text>
</svg>
</body></html>
